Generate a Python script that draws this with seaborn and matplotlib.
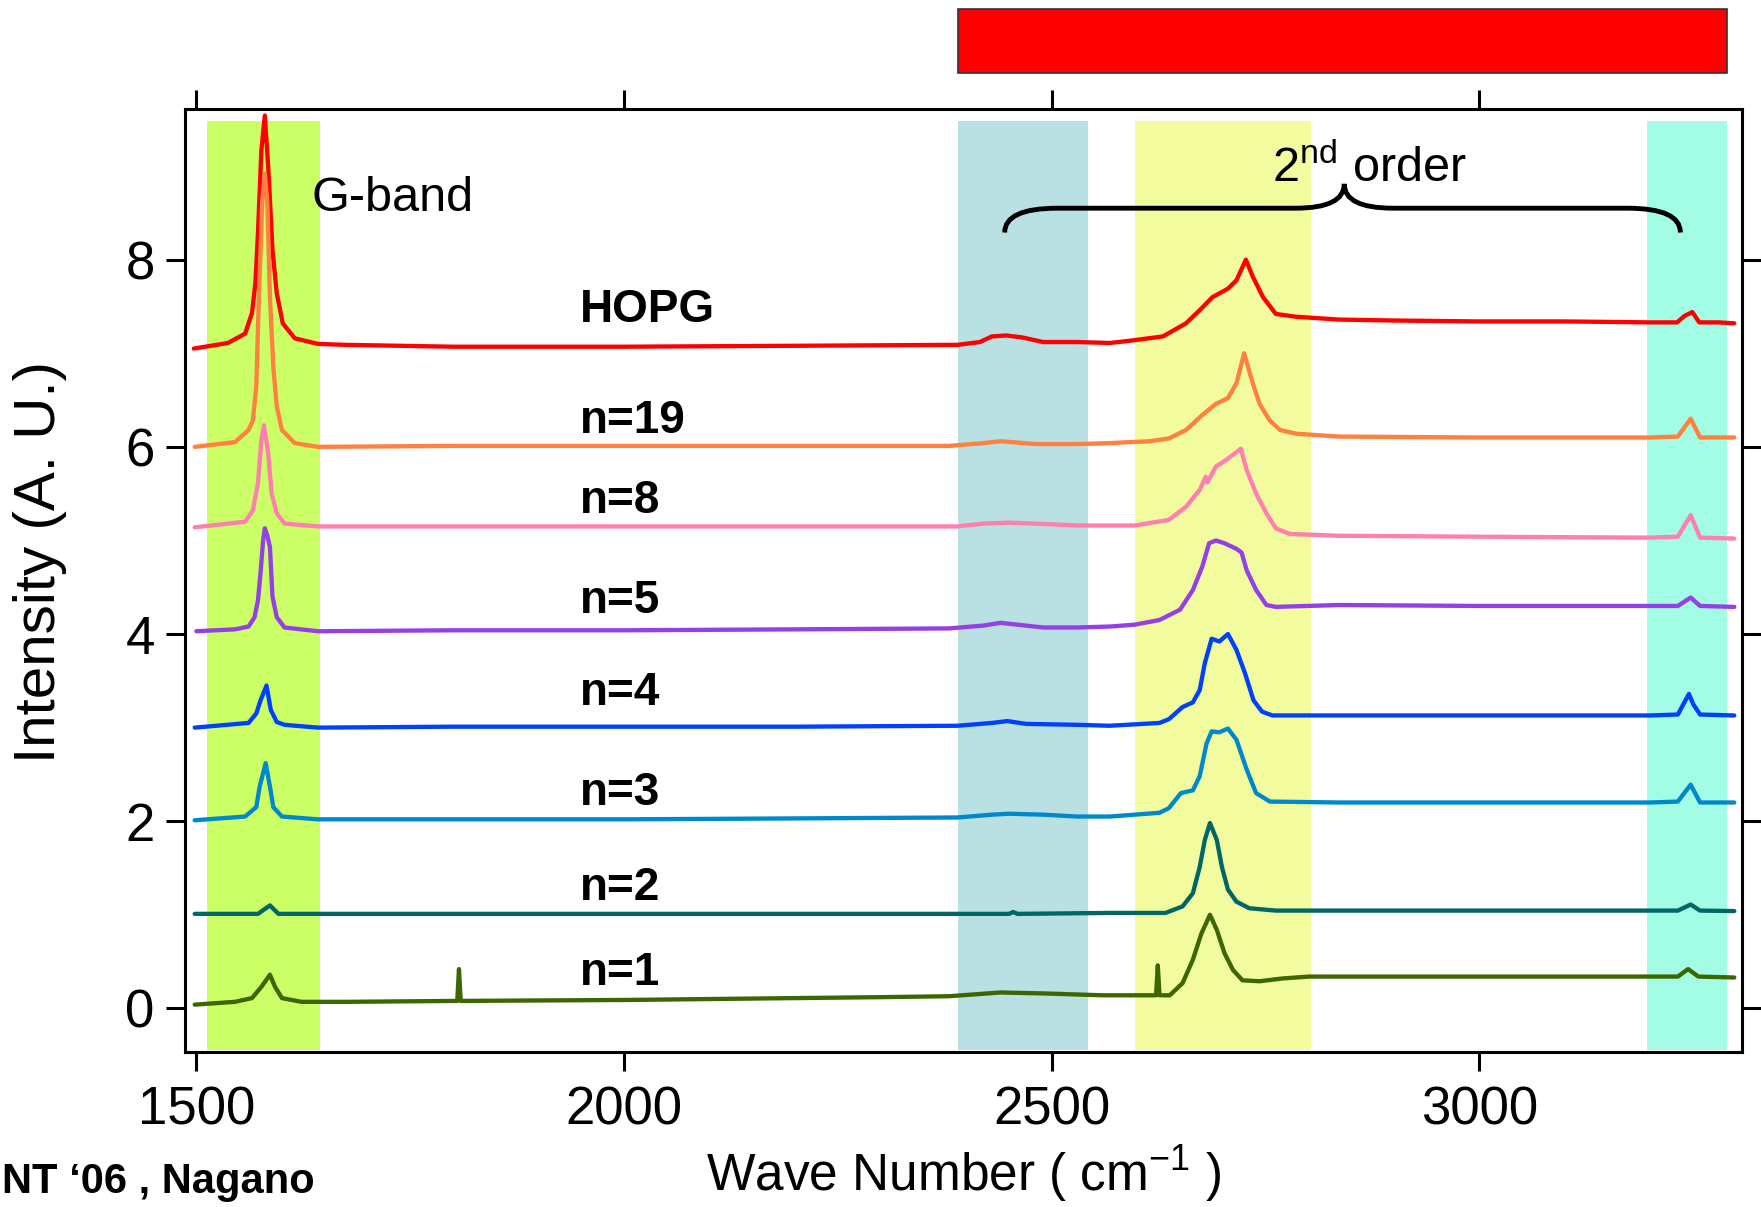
import numpy as np
import pandas as pd
import matplotlib
matplotlib.use("Agg")
import matplotlib.pyplot as plt
import matplotlib.transforms as mtransforms
from matplotlib.path import Path
from matplotlib.patches import PathPatch, Rectangle
import seaborn as sns

# Raman spectra (wave number in cm-1, offset intensity)
hopg_x = [1497, 1537, 1557, 1565, 1569, 1572, 1576, 1580, 1584, 1589, 1594, 1601, 1615, 1642, 1674,
          1800, 2000, 2200, 2390, 2416, 2430, 2447, 2465, 2490, 2530, 2568, 2597, 2630, 2657, 2673,
          2688, 2706, 2716, 2727, 2735, 2747, 2762, 2786, 2836, 2900, 3000, 3100, 3200, 3231, 3240,
          3249, 3257, 3280, 3298]
hopg_y = [7.05, 7.11, 7.21, 7.43, 7.75, 8.28, 9.17, 9.54, 8.99, 8.10, 7.64, 7.32, 7.16, 7.10, 7.09,
          7.07, 7.07, 7.08, 7.09, 7.12, 7.18, 7.19, 7.17, 7.12, 7.12, 7.11, 7.14, 7.18, 7.32, 7.46,
          7.60, 7.69, 7.78, 8.00, 7.82, 7.60, 7.42, 7.39, 7.36, 7.35, 7.34, 7.34, 7.33, 7.33, 7.40,
          7.44, 7.33, 7.33, 7.32]

n19_x = [1498, 1545, 1561, 1566, 1570, 1573, 1577, 1580, 1583, 1586, 1590, 1594, 1600, 1615, 1642,
         1800, 2000, 2200, 2380, 2420, 2440, 2482, 2530, 2568, 2614, 2637, 2657, 2676, 2692, 2706,
         2716, 2725, 2734, 2743, 2755, 2767, 2786, 2836, 3000, 3200, 3232, 3247, 3258, 3298]
n19_y = [6.00, 6.05, 6.18, 6.28, 6.64, 7.57, 8.63, 8.92, 8.60, 7.60, 6.85, 6.43, 6.18, 6.04, 6.00,
         6.01, 6.01, 6.01, 6.01, 6.04, 6.06, 6.03, 6.03, 6.04, 6.06, 6.09, 6.18, 6.34, 6.46, 6.52,
         6.68, 7.00, 6.71, 6.46, 6.28, 6.18, 6.14, 6.11, 6.10, 6.10, 6.11, 6.30, 6.10, 6.10]

n8_x = [1498, 1557, 1566, 1572, 1576, 1579, 1584, 1588, 1594, 1603, 1642, 1800, 2000, 2200, 2390,
        2420, 2450, 2480, 2530, 2568, 2597, 2637, 2657, 2673, 2680, 2682, 2692, 2704, 2721, 2728,
        2739, 2751, 2762, 2778, 2836, 3000, 3200, 3232, 3247, 3258, 3298]
n8_y = [5.14, 5.20, 5.32, 5.61, 6.07, 6.23, 5.93, 5.50, 5.29, 5.18, 5.15, 5.15, 5.15, 5.15, 5.15,
        5.18, 5.19, 5.18, 5.16, 5.16, 5.16, 5.22, 5.36, 5.54, 5.68, 5.62, 5.79, 5.86, 5.98, 5.75,
        5.50, 5.29, 5.13, 5.07, 5.05, 5.04, 5.03, 5.04, 5.27, 5.03, 5.02]

n5_x = [1500, 1545, 1561, 1568, 1572, 1575, 1578, 1580, 1583, 1586, 1589, 1594, 1603, 1642, 1800,
        2000, 2200, 2380, 2420, 2440, 2460, 2490, 2530, 2568, 2597, 2626, 2650, 2665, 2676, 2684,
        2692, 2702, 2716, 2722, 2728, 2739, 2751, 2762, 2836, 3000, 3200, 3232, 3247, 3258, 3298]
n5_y = [4.03, 4.05, 4.08, 4.18, 4.36, 4.65, 5.00, 5.13, 5.05, 4.93, 4.40, 4.18, 4.07, 4.03, 4.04,
        4.04, 4.05, 4.06, 4.09, 4.12, 4.10, 4.07, 4.07, 4.08, 4.10, 4.15, 4.26, 4.47, 4.72, 4.97,
        5.00, 4.97, 4.91, 4.87, 4.68, 4.47, 4.31, 4.29, 4.31, 4.30, 4.30, 4.30, 4.39, 4.30, 4.29]

n4_x = [1498, 1561, 1570, 1575, 1582, 1587, 1594, 1603, 1642, 1800, 2000, 2200, 2390, 2430, 2448,
        2470, 2530, 2568, 2626, 2637, 2653, 2665, 2673, 2679, 2687, 2696, 2706, 2716, 2726, 2736,
        2746, 2758, 2836, 3000, 3200, 3232, 3245, 3250, 3258, 3298]
n4_y = [3.00, 3.05, 3.15, 3.29, 3.45, 3.19, 3.06, 3.03, 3.00, 3.01, 3.01, 3.01, 3.02, 3.05, 3.07,
        3.04, 3.03, 3.02, 3.05, 3.09, 3.22, 3.27, 3.40, 3.69, 3.95, 3.92, 4.00, 3.83, 3.58, 3.29,
        3.17, 3.13, 3.13, 3.13, 3.13, 3.14, 3.36, 3.25, 3.14, 3.13]

n3_x = [1498, 1557, 1570, 1574, 1581, 1586, 1590, 1600, 1642, 1800, 2000, 2200, 2390, 2430, 2450,
        2490, 2530, 2568, 2626, 2637, 2651, 2665, 2673, 2681, 2687, 2696, 2706, 2716, 2728, 2739,
        2755, 2836, 3000, 3200, 3232, 3247, 3258, 3298]
n3_y = [2.01, 2.05, 2.15, 2.37, 2.62, 2.37, 2.15, 2.05, 2.02, 2.02, 2.02, 2.03, 2.04, 2.07, 2.08,
        2.07, 2.05, 2.05, 2.09, 2.14, 2.30, 2.33, 2.48, 2.83, 2.96, 2.95, 2.99, 2.87, 2.55, 2.30,
        2.21, 2.20, 2.20, 2.20, 2.21, 2.39, 2.20, 2.20]

n2_x = [1498, 1572, 1586, 1596, 1800, 2000, 2200, 2400, 2450, 2455, 2460, 2568, 2633, 2653, 2665,
        2673, 2679, 2685, 2693, 2699, 2706, 2716, 2731, 2762, 2836, 3000, 3200, 3232, 3247, 3258, 3298]
n2_y = [1.01, 1.01, 1.10, 1.01, 1.01, 1.01, 1.01, 1.01, 1.01, 1.03, 1.01, 1.02, 1.02, 1.09, 1.23,
        1.51, 1.80, 1.98, 1.80, 1.51, 1.27, 1.14, 1.07, 1.045, 1.045, 1.045, 1.045, 1.045, 1.11, 1.045, 1.04]

n1_x = [1498, 1545, 1565, 1576, 1586, 1592, 1600, 1623, 1674, 1805, 1807, 1809, 2000, 2100, 2200,
        2300, 2380, 2440, 2490, 2560, 2622, 2624, 2626, 2638, 2653, 2665, 2675, 2685, 2693, 2702,
        2712, 2723, 2743, 2770, 2801, 2836, 3000, 3200, 3232, 3244, 3256, 3298]
n1_y = [0.04, 0.07, 0.11, 0.23, 0.36, 0.23, 0.11, 0.07, 0.07, 0.08, 0.42, 0.08, 0.09, 0.10, 0.11,
        0.12, 0.13, 0.17, 0.16, 0.14, 0.14, 0.46, 0.14, 0.14, 0.27, 0.52, 0.80, 1.00, 0.84, 0.59,
        0.41, 0.30, 0.29, 0.32, 0.34, 0.34, 0.34, 0.34, 0.34, 0.42, 0.34, 0.33]

samples = ["HOPG", "n=19", "n=8", "n=5", "n=4", "n=3", "n=2", "n=1"]
sample_x = [hopg_x, n19_x, n8_x, n5_x, n4_x, n3_x, n2_x, n1_x]
sample_y = [hopg_y, n19_y, n8_y, n5_y, n4_y, n3_y, n2_y, n1_y]
label_y = [7.33, 6.15, 5.29, 4.23, 3.24, 2.17, 1.16, 0.25]
colors = ["#FF0000", "#FF8040", "#FF80B0", "#9440E6", "#0040FF", "#0088CC", "#006666", "#3D6600"]

# highlighted bands (cm-1)
band_lo = [1512, 2391, 2597, 3196]
band_hi = [1644, 2542, 2803, 3290]
band_colors = ["#CCFF66", "#B9E0E3", "#F2FC9F", "#A3FCE4"]

rows = []
for name, xs, ys in zip(samples, sample_x, sample_y):
    for xv, yv in zip(xs, ys):
        rows.append({"sample": name, "wavenumber": xv, "intensity": yv})
df = pd.DataFrame(rows)

sns.set_style("ticks")
plt.rcParams["font.family"] = ["Liberation Sans", "DejaVu Sans"]
plt.rcParams["mathtext.fontset"] = "custom"
plt.rcParams["mathtext.rm"] = "Liberation Sans"
plt.rcParams["mathtext.it"] = "Liberation Sans:italic"
plt.rcParams["mathtext.bf"] = "Liberation Sans:bold"
for key in ["text.color", "axes.labelcolor", "xtick.color", "ytick.color", "axes.edgecolor"]:
    plt.rcParams[key] = "black"

fig = plt.figure(figsize=(17.61, 12.07), dpi=100)
ax = fig.add_axes([0.1052, 0.1281, 0.884, 0.7816])

for lo, hi, c in zip(band_lo, band_hi, band_colors):
    ax.axvspan(lo, hi, ymin=0.0025, ymax=0.987, color=c, lw=0, zorder=0)

sns.lineplot(data=df, x="wavenumber", y="intensity", hue="sample", hue_order=samples,
             palette=dict(zip(samples, colors)), estimator=None, sort=False,
             lw=3.1, legend=False, ax=ax, zorder=3)

for name, yl in zip(samples, label_y):
    ax.text(1948, yl, name, fontsize=33, fontweight="bold", ha="left", va="baseline")

ax.text(1635, 8.52, "G-band", fontsize=35, va="baseline")
ax.text(2757, 8.83, r"2$^{\mathrm{nd}}$ order", fontsize=35, va="baseline")

# curly brace over the 2nd order region
xl, xr, xc = 2445, 3235, 2842
yt, yh, yc = 8.29, 8.55, 8.81
r = 62
verts = [(xl, yt), (xl, yh), (xl + r, yh),
         (xc - 57, yh),
         (xc, yh), (xc, yc),
         (xc, yh), (xc + 57, yh),
         (xr - r, yh),
         (xr, yh), (xr, yt)]
codes = [Path.MOVETO, Path.CURVE3, Path.CURVE3,
         Path.LINETO,
         Path.CURVE3, Path.CURVE3,
         Path.CURVE3, Path.CURVE3,
         Path.LINETO,
         Path.CURVE3, Path.CURVE3]
ax.add_patch(PathPatch(Path(verts, codes), facecolor="none", edgecolor="black", lw=3.5, zorder=4))

# red bar above the plot
trans = mtransforms.blended_transform_factory(ax.transData, ax.transAxes)
ax.add_patch(Rectangle((2390, 1.038), 900, 0.068, transform=trans, facecolor="#FF0000",
                       edgecolor="#333333", lw=1.2, clip_on=False))

ax.set_xlim(1487, 3307)
ax.set_ylim(-0.47, 9.61)
ax.set_xticks([1500, 2000, 2500, 3000])
ax.set_yticks([0, 2, 4, 6, 8])
ax.tick_params(direction="out", length=14, width=2.2, labelsize=38, top=True, right=True,
               labeltop=False, labelright=False, pad=8, color="black", labelcolor="black")
ax.tick_params(axis="x", pad=10)
for sp in ax.spines.values():
    sp.set_linewidth(2.2)
    sp.set_color("black")

ax.set_xlabel(r"Wave Number ( cm$^{-1}$ )", fontsize=37, labelpad=6)
ax.set_ylabel("")
fig.text(40 / 1761, 1 - 562 / 1207, "Intensity (A. U.)", fontsize=42, rotation=90,
         ha="center", va="center")
fig.text(2 / 1761, 1 - 1193 / 1207, "NT \u201806 , Nagano", fontsize=30, fontweight="bold",
         ha="left", va="baseline")

fig.savefig("out.png", dpi=100)
